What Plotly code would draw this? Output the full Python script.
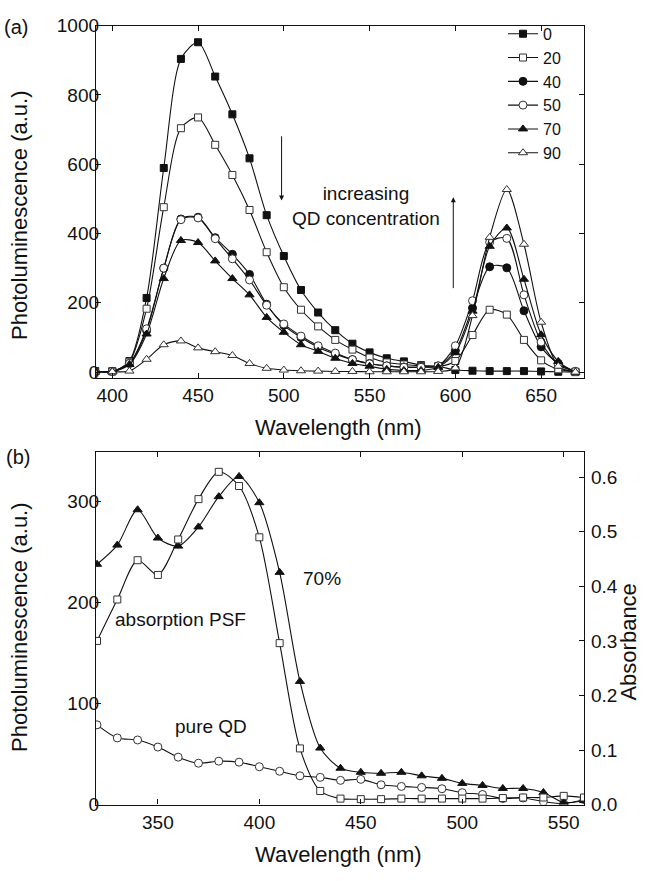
import plotly.graph_objects as go

# ---- Panel (a): PL spectra of blends at several QD concentrations ----
wl_a = list(range(390, 680, 10))
conc_labels = ["0", "20", "40", "50", "70", "90"]

pl_0 = [3, 2, 32, 214, 589, 904, 952, 853, 744, 617, 453, 335, 237, 172, 121,
        82, 57, 40, 31, 20, 17, 6, 4, 3, 3, 3, 2, 1, 0]
pl_20 = [2, 3, 30, 183, 476, 704, 735, 656, 569, 468, 346, 245, 180, 132, 93,
         65, 42, 28, 22, 18, 16, 32, 107, 180, 166, 93, 34, 8, 1]
pl_40 = [2, 2, 25, 120, 300, 442, 447, 388, 340, 282, 196, 135, 100, 72, 52,
         36, 25, 18, 15, 15, 18, 62, 185, 304, 301, 177, 73, 25, 2]
pl_50 = [2, 2, 25, 125, 300, 440, 445, 385, 327, 266, 193, 139, 104, 76, 55,
         36, 24, 18, 14, 14, 18, 76, 206, 375, 386, 223, 87, 22, 2]
pl_70 = [1, 2, 22, 110, 270, 380, 374, 321, 270, 223, 158, 115, 79, 60, 40,
         25, 17, 8, 5, 5, 14, 56, 176, 363, 416, 268, 108, 31, 0]
pl_90 = [0, 1, 3, 37, 79, 90, 70, 59, 48, 25, 11, 6, 4, 3, 2,
         2, 1, 1, 1, 1, 2, 12, 163, 389, 527, 369, 144, 17, 0]

# ---- Panel (b): excitation / absorption spectra ----
wl_b = list(range(320, 570, 10))
pl_70pct = [238, 257, 292, 264, 256, 275, 305, 325, 299, 230, 122, 56, 36, 32,
            31, 32, 28.5, 26, 21, 19, 16, 16, 12, 2, 4]
pl_pure_qd = [79, 66, 64, 57, 47, 41, 43, 42, 37.5, 33, 28.5, 27, 24, 25, 19.6,
              18, 17, 15.7, 11.8, 10, 6, 6.5, 3, 1, 5]
abs_psf = [0.300, 0.376, 0.448, 0.421, 0.486, 0.560, 0.610, 0.584, 0.490, 0.296,
           0.103, 0.025, 0.011, 0.010, 0.010, 0.011, 0.011, 0.011, 0.011, 0.011,
           0.012, 0.013, 0.013, 0.016, 0.013]

FONT = "Liberation Sans, Arial, Helvetica, sans-serif"
INK = "#111111"

def marker(symbol, filled, size):
    return dict(symbol=symbol, size=size,
                color=INK if filled else "white",
                line=dict(color=INK if filled else "#333333", width=1))

styles = [("square", True, 7), ("square", False, 7), ("circle", True, 8),
          ("circle", False, 8), ("triangle-up", True, 8), ("triangle-up", False, 8)]

fig = go.Figure()

for name, ys, (sym, filled, sz) in zip(conc_labels,
                                       [pl_0, pl_20, pl_40, pl_50, pl_70, pl_90],
                                       styles):
    fig.add_trace(go.Scatter(
        x=wl_a, y=ys, name=name, mode="lines+markers",
        line=dict(color=INK, width=1.1, shape="spline", smoothing=0.8),
        marker=marker(sym, filled, sz), xaxis="x", yaxis="y"))

fig.add_trace(go.Scatter(
    x=wl_b, y=abs_psf, mode="lines+markers", showlegend=False,
    line=dict(color=INK, width=1.1, shape="spline", smoothing=0.8),
    marker=marker("square", False, 7), xaxis="x2", yaxis="y3"))
fig.add_trace(go.Scatter(
    x=wl_b, y=pl_pure_qd, mode="lines+markers", showlegend=False,
    line=dict(color=INK, width=1.1, shape="spline", smoothing=0.8),
    marker=marker("circle", False, 8), xaxis="x2", yaxis="y2"))
fig.add_trace(go.Scatter(
    x=wl_b, y=pl_70pct, mode="lines+markers", showlegend=False,
    line=dict(color=INK, width=1.1, shape="spline", smoothing=0.8),
    marker=marker("triangle-up", True, 8), xaxis="x2", yaxis="y2"))

W, H = 647, 881
xdom = [96 / W, 584 / W]
ydom_a = [1 - 377 / H, 1 - 16 / H]
ydom_b = [1 - 814 / H, 1 - 453 / H]

axis_common = dict(showline=True, linecolor=INK, linewidth=1.3, ticks="inside",
                   ticklen=5, tickwidth=1.2, tickcolor=INK, showgrid=False,
                   zeroline=False, tickfont=dict(family=FONT, size=19, color=INK))

fig.update_layout(
    width=W, height=H, margin=dict(l=0, r=0, t=0, b=0),
    paper_bgcolor="white", plot_bgcolor="white",
    font=dict(family=FONT, size=18, color=INK),
    showlegend=True,
    legend=dict(x=503 / W, y=1 - 7 / H, xanchor="left", yanchor="top",
                bgcolor="rgba(0,0,0,0)", font=dict(family=FONT, size=16, color=INK),
                tracegroupgap=0, itemwidth=30),
    xaxis=dict(domain=xdom, anchor="y", range=[390.5, 675], tickvals=[400, 450, 500, 550, 600, 650],
               mirror="ticks", **axis_common),
    yaxis=dict(domain=ydom_a, anchor="x", range=[-17, 1000], tickvals=[0, 200, 400, 600, 800, 1000],
               mirror="ticks", ticklabelstandoff=-8, **axis_common),
    xaxis2=dict(domain=xdom, anchor="y2", range=[319.5, 560], tickvals=[350, 400, 450, 500, 550],
                mirror="ticks", **axis_common),
    yaxis2=dict(domain=ydom_b, anchor="x2", range=[0, 349], tickvals=[0, 100, 200, 300],
                ticklabelstandoff=-8, **axis_common),
    yaxis3=dict(overlaying="y2", anchor="x2", side="right", range=[0, 0.646],
                tickvals=[0.0, 0.1, 0.2, 0.3, 0.4, 0.5, 0.6], tickformat=".1f",
                ticklabelstandoff=2, **axis_common),
)

ann_font = dict(family=FONT, size=19, color=INK)
title_font = dict(family=FONT, size=22, color=INK)
annotations = [
    # axis titles
    dict(text="Photoluminescence (a.u.)", x=20 / W, y=1 - 211 / H, textangle=-90, font=title_font),
    dict(text="Wavelength (nm)", x=338 / W, y=1 - 428 / H, font=title_font),
    dict(text="Photoluminescence (a.u.)", x=20 / W, y=1 - 633 / H, textangle=-90, font=title_font),
    dict(text="Absorbance", x=629 / W, y=1 - 648 / H, textangle=-90, font=title_font),
    dict(text="Wavelength (nm)", x=338 / W, y=1 - 865 / H, font=title_font),
    # panel labels
    dict(text="(a)", x=16 / W, y=1 - 17 / H, font=dict(family=FONT, size=20, color=INK)),
    dict(text="(b)", x=18 / W, y=1 - 458 / H, font=dict(family=FONT, size=20, color=INK)),
]
for a in annotations:
    a.update(xref="paper", yref="paper", showarrow=False, xanchor="center", yanchor="middle")

data_ann = [
    dict(text="increasing<br>QD concentration", x=548, y=478, xref="x", yref="y",
         showarrow=False, font=ann_font),
    dict(text="", x=498.7, y=495, ax=498.7, ay=685, xref="x", yref="y",
         axref="x", ayref="y", showarrow=True, arrowhead=2, arrowsize=1,
         arrowwidth=1, arrowcolor=INK),
    dict(text="", x=598.8, y=505, ax=598.8, ay=238, xref="x", yref="y",
         axref="x", ayref="y", showarrow=True, arrowhead=2, arrowsize=1,
         arrowwidth=1, arrowcolor=INK),
    dict(text="70%", x=431, y=224, xref="x2", yref="y2", showarrow=False, font=ann_font),
    dict(text="absorption PSF", x=361, y=183, xref="x2", yref="y2", showarrow=False, font=ann_font),
    dict(text="pure QD", x=376, y=77, xref="x2", yref="y2", showarrow=False, font=ann_font),
]

fig.update_layout(annotations=annotations + data_ann)

fig.write_html("out.html")
